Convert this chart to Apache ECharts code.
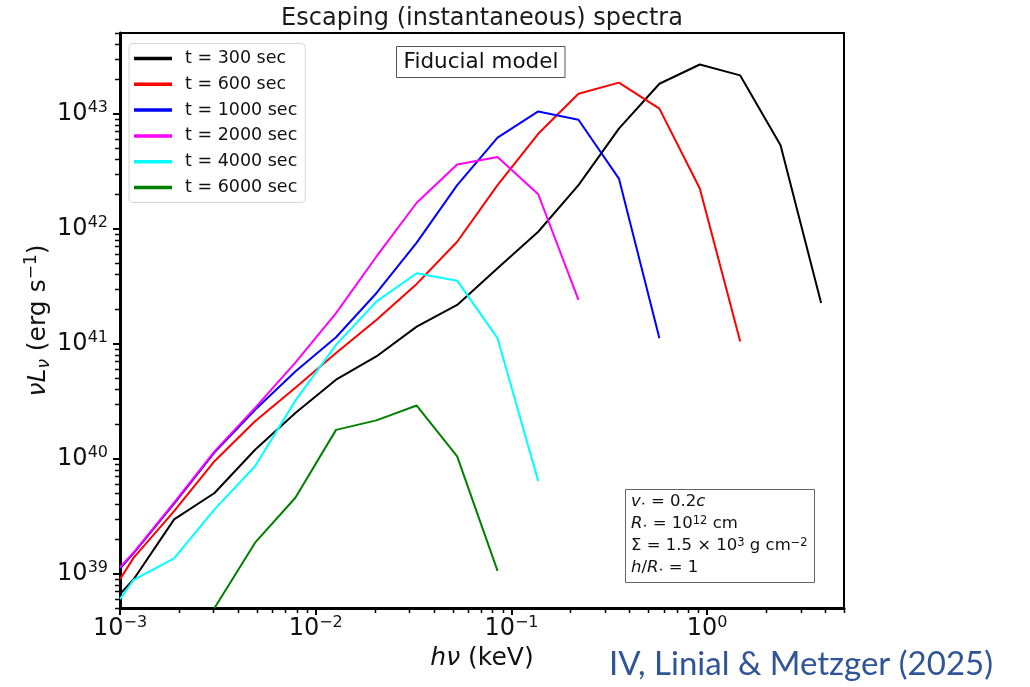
<!DOCTYPE html>
<html><head><meta charset="utf-8">
<script src="https://cdn.jsdelivr.net/npm/echarts@6/dist/echarts.min.js"></script>
<style>html,body{margin:0;padding:0;background:#fff}#c{width:1030px;height:687px}</style>
</head><body><div id="c"></div>
<script>
// photon energy h*nu (keV): left-edge reading, then the model's energy grid
const energy = [1.0e-3, 1.175e-3, 1.89e-3, 3.04e-3, 4.90e-3, 7.87e-3, 1.27e-2, 2.04e-2, 3.28e-2, 5.28e-2, 8.49e-2, 0.137, 0.220, 0.354, 0.570, 0.917, 1.475, 2.37, 3.82];
// nu L_nu (erg/s) for each escape time
const t300  = [6.6e38, 8.9e38, 2.95e39, 5.0e39, 1.19e40, 2.48e40, 4.83e40, 7.7e40, 1.40e41, 2.16e41, 4.5e41, 9.35e41, 2.38e42, 7.37e42, 1.81e43, 2.66e43, 2.14e43, 5.28e42, 2.24e41];
const t600  = [8.9e38, 1.37e39, 3.48e39, 9.45e39, 2.10e40, 4.12e40, 8.24e40, 1.60e41, 3.29e41, 7.65e41, 2.38e42, 6.64e42, 1.48e43, 1.85e43, 1.10e43, 2.22e42, 1.04e41, null, null];
const t1000 = [1.1e39, 1.5e39, 4.05e39, 1.13e40, 2.65e40, 5.70e40, 1.13e41, 2.73e41, 7.53e41, 2.38e42, 6.16e42, 1.04e43, 8.8e42, 2.71e42, 1.11e41, null, null, null, null];
const t2000 = [1.13e39, 1.52e39, 4.12e39, 1.15e40, 2.75e40, 6.8e40, 1.83e41, 5.67e41, 1.67e42, 3.60e42, 4.18e42, 1.98e42, 2.39e41, null, null, null, null, null, null];
const t4000 = [5.97e38, 8.8e38, 1.35e39, 3.60e39, 8.55e39, 3.18e40, 9.7e40, 2.31e41, 4.07e41, 3.51e41, 1.11e41, 6.34e39, null, null, null, null, null, null, null];
const t6000 = [null, null, null, 5.0e38, 1.85e39, 4.55e39, 1.77e40, 2.14e40, 2.88e40, 1.04e40, 1.05e39, null, null, null, null, null, null, null, null];

const seriesNames = ['t = 300 sec', 't = 600 sec', 't = 1000 sec', 't = 2000 sec', 't = 4000 sec', 't = 6000 sec'];
const seriesValues = [t300, t600, t1000, t2000, t4000, t6000];
const seriesColors = ['#000000', '#ff0000', '#0000ff', '#ff00ff', '#00ffff', '#008000'];

const xMajorTicks = [1e-3, 1e-2, 1e-1, 1];
const yMajorTicks = [1e39, 1e40, 1e41, 1e42, 1e43];
const xMinorTicks = [2e-3,3e-3,4e-3,5e-3,6e-3,7e-3,8e-3,9e-3, 2e-2,3e-2,4e-2,5e-2,6e-2,7e-2,8e-2,9e-2, 0.2,0.3,0.4,0.5,0.6,0.7,0.8,0.9, 2,3,4,5];
const yMinorTicks = [5e38,6e38,7e38,8e38,9e38, 2e39,3e39,4e39,5e39,6e39,7e39,8e39,9e39, 2e40,3e40,4e40,5e40,6e40,7e40,8e40,9e40, 2e41,3e41,4e41,5e41,6e41,7e41,8e41,9e41, 2e42,3e42,4e42,5e42,6e42,7e42,8e42,9e42, 2e43,3e43,4e43,5e43];

const FONT = 'DejaVu Sans';
function sci(v) {
  const e = Math.round(Math.log10(v));
  return '{b|10}{s|' + String(e).replace('-', '\u2212') + '}';
}
const tickRich = {
  b: { fontSize: 24, fontFamily: FONT, color: '#111', lineHeight: 28 },
  s: { fontSize: 16, fontFamily: FONT, color: '#111', lineHeight: 16, verticalAlign: 'top' }
};

const chart = echarts.init(document.getElementById('c'), null, { renderer: 'canvas' });

const series = seriesNames.map((name, i) => ({
  name: name,
  type: 'line',
  data: energy.map((x, j) => [x, seriesValues[i][j]]),
  showSymbol: false,
  symbol: 'none',
  connectNulls: false,
  clip: true,
  lineStyle: { color: seriesColors[i], width: 2 },
  itemStyle: { color: seriesColors[i] },
  emphasis: { disabled: true },
  animation: false
}));

const staticGraphics = [
  { type: 'text', x: 482, y: 19, z: 100,
    style: { text: 'Escaping (instantaneous) spectra', font: '24px "DejaVu Sans"', fill: '#1a1a1a', align: 'center', verticalAlign: 'middle' } },
  { type: 'rect', z: 100, shape: { x: 396.5, y: 46.5, width: 168.5, height: 31 },
    style: { fill: '#fff', stroke: '#555', lineWidth: 1 } },
  { type: 'text', z: 101, x: 481, y: 62.5,
    style: { text: 'Fiducial model', font: '21.5px "DejaVu Sans"', fill: '#111', align: 'center', verticalAlign: 'middle' } },
  { type: 'rect', z: 100, shape: { x: 625.5, y: 489.5, width: 189, height: 93 },
    style: { fill: '#fff', stroke: '#666', lineWidth: 1 } },
  { type: 'text', z: 101, x: 631, y: 491,
    style: {
      text: '{i|v}{sub|\u22c6}{n| = 0.2}{i|c}\n{i|R}{sub|\u22c6}{n| = 10}{sup|12}{n| cm}\n{n|\u03a3 = 1.5 \u00d7 10}{sup|3}{n| g cm}{sup|\u22122}\n{i|h}{n|/}{i|R}{sub|\u22c6}{n| = 1}',
      align: 'left', verticalAlign: 'top',
      rich: {
        i: { fontSize: 16.5, fontFamily: FONT, fontStyle: 'italic', fill: '#111', lineHeight: 22 },
        n: { fontSize: 16.5, fontFamily: FONT, fill: '#111', lineHeight: 22 },
        sub: { fontSize: 8, fontFamily: FONT, fill: '#111', lineHeight: 8, verticalAlign: 'bottom', padding: [0, 0, 5, 0] },
        sup: { fontSize: 11.5, fontFamily: FONT, fill: '#111', lineHeight: 11.5, verticalAlign: 'top', padding: [2, 0, 0, 0] }
      }
    } },
  { type: 'text', z: 100, x: 801, y: 664,
    style: { text: 'IV, Linial & Metzger (2025)', font: '33px Lato', fill: '#2f5597', align: 'center', verticalAlign: 'middle' } }
];

const option = {
  animation: false,
  backgroundColor: '#ffffff',
  grid: { left: 120, right: 186, top: 33, bottom: 79, show: true, borderColor: '#000', borderWidth: 2, backgroundColor: 'transparent', containLabel: false },
  legend: {
    orient: 'vertical', left: 129, top: 43.5,
    padding: [5, 8, 5, 5],
    itemWidth: 38, itemHeight: 3.5, itemGap: 5.8,
    icon: 'rect',
    backgroundColor: 'rgba(255,255,255,0.9)', borderColor: '#d6d6d6', borderWidth: 1, borderRadius: 4,
    textStyle: { fontFamily: FONT, fontSize: 17.5, color: '#111', lineHeight: 20, padding: [0, 0, 0, 8] },
    data: seriesNames,
    selectedMode: false
  },
  xAxis: {
    type: 'log', logBase: 10, min: 1e-3, max: 5, position: 'bottom',
    name: '{i|h\u03bd}{n| (keV)}', nameLocation: 'middle', nameGap: 35, nameMoveOverlap: false,
    nameTextStyle: { rich: {
      i: { fontSize: 25, fontFamily: FONT, fontStyle: 'italic', color: '#111', lineHeight: 30 },
      n: { fontSize: 25, fontFamily: FONT, color: '#111', lineHeight: 30 } } },
    axisLine: { show: true, onZero: false, lineStyle: { color: '#000', width: 3 } },
    axisTick: { show: true, customValues: xMajorTicks, length: 7, lineStyle: { color: '#000', width: 2 } },
    axisLabel: { show: true, customValues: xMajorTicks, formatter: sci, margin: 7, rich: tickRich },
    splitLine: { show: false }, minorTick: { show: false }
  },
  yAxis: {
    type: 'log', logBase: 10, min: 5e38, max: 5e43, position: 'left',
    name: '{i|\u03bdL}{sub|\u03bd}{n| (erg s}{sup|\u22121}{n|)}', nameLocation: 'middle', nameGap: 67, nameMoveOverlap: false,
    nameTextStyle: { rich: {
      i: { fontSize: 25, fontFamily: FONT, fontStyle: 'italic', color: '#111', lineHeight: 30 },
      sub: { fontSize: 17, fontFamily: FONT, fontStyle: 'italic', color: '#111', lineHeight: 17, verticalAlign: 'bottom' },
      n: { fontSize: 25, fontFamily: FONT, color: '#111', lineHeight: 30 },
      sup: { fontSize: 17, fontFamily: FONT, color: '#111', lineHeight: 17, verticalAlign: 'top' } } },
    axisLine: { show: true, onZero: false, lineStyle: { color: '#000', width: 3 } },
    axisTick: { show: true, customValues: yMajorTicks, length: 7, lineStyle: { color: '#000', width: 2 } },
    axisLabel: { show: true, customValues: yMajorTicks, formatter: sci, margin: 12, rich: tickRich },
    splitLine: { show: false }, minorTick: { show: false }
  },
  series: series,
  graphic: staticGraphics
};
chart.setOption(option);

// minor log ticks, placed through the axes' own scales
const xBottom = chart.convertToPixel({ yAxisIndex: 0 }, 5e38);
const yLeft = chart.convertToPixel({ xAxisIndex: 0 }, 1e-3);
const minorGraphics = [];
xMinorTicks.forEach(v => {
  const px = Math.round(chart.convertToPixel({ xAxisIndex: 0 }, v)) + 0.5;
  minorGraphics.push({ type: 'line', z: 50, silent: true, shape: { x1: px, y1: xBottom, x2: px, y2: xBottom + 5 }, style: { stroke: '#000', lineWidth: 1.5 } });
});
yMinorTicks.forEach(v => {
  const py = Math.round(chart.convertToPixel({ yAxisIndex: 0 }, v)) + 0.5;
  minorGraphics.push({ type: 'line', z: 50, silent: true, shape: { x1: yLeft - 5, y1: py, x2: yLeft, y2: py }, style: { stroke: '#000', lineWidth: 1.5 } });
});
chart.setOption({ graphic: staticGraphics.concat(minorGraphics) });
</script>
</body></html>
